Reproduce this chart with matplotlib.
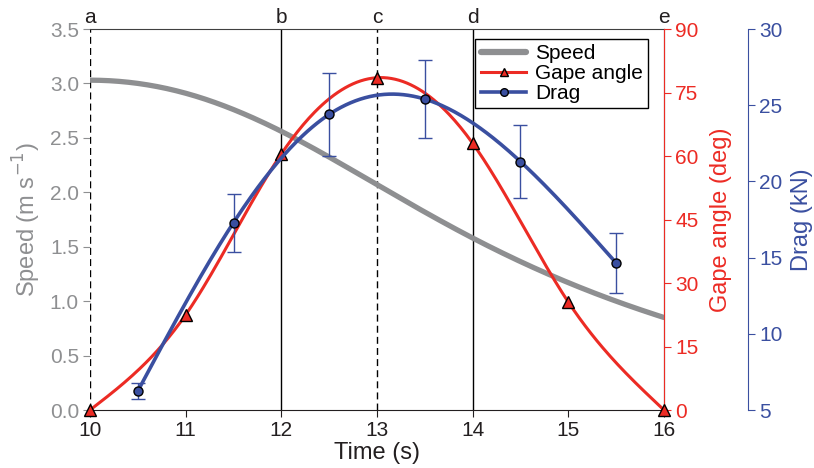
import numpy as np
import matplotlib
matplotlib.use("Agg")
import matplotlib.pyplot as plt
from matplotlib.lines import Line2D

plt.rcParams["font.family"] = ["Liberation Sans", "DejaVu Sans"]

GREY = "#8e8f91"
RED = "#ec2b24"
BLUE = "#3a4fa0"

# speed curve (m/s)
speed_t = [10, 11, 12, 13, 14, 15, 16]
speed_v = [3.03, 2.91, 2.56, 2.07, 1.58, 1.17, 0.85]

# gape angle (deg)
gape_t = [10, 11, 12, 13, 14, 15, 16]
gape_v = [0, 22.5, 60.5, 78.5, 63, 25.5, 0]

# drag (kN)
drag_t = [10.5, 11.5, 12.5, 13.5, 14.5, 15.5]
drag_v = [6.25, 17.3, 24.4, 25.4, 21.3, 14.65]
drag_err = [0.55, 1.9, 2.7, 2.55, 2.4, 1.95]

events = ["a", "b", "c", "d", "e"]
event_t = [10, 12, 13, 14, 16]
event_ls = ["--", "-", "--", "-", None]


def spline(x, y, xs, d0=None, dn=None):
    """Cubic spline; natural ends unless end slopes d0/dn are given."""
    x = np.asarray(x, float)
    y = np.asarray(y, float)
    n = len(x)
    h = np.diff(x)
    A = np.zeros((n, n))
    b = np.zeros(n)
    if d0 is None:
        A[0, 0] = 1
    else:
        A[0, 0], A[0, 1] = 2 * h[0], h[0]
        b[0] = 6 * ((y[1] - y[0]) / h[0] - d0)
    if dn is None:
        A[-1, -1] = 1
    else:
        A[-1, -2], A[-1, -1] = h[-1], 2 * h[-1]
        b[-1] = 6 * (dn - (y[-1] - y[-2]) / h[-1])
    for i in range(1, n - 1):
        A[i, i - 1] = h[i - 1]
        A[i, i] = 2 * (h[i - 1] + h[i])
        A[i, i + 1] = h[i]
        b[i] = 6 * ((y[i + 1] - y[i]) / h[i] - (y[i] - y[i - 1]) / h[i - 1])
    M = np.linalg.solve(A, b)
    idx = np.clip(np.searchsorted(x, xs) - 1, 0, n - 2)
    x0, x1 = x[idx], x[idx + 1]
    hh = x1 - x0
    a = (x1 - xs) / hh
    c = (xs - x0) / hh
    return (a * y[idx] + c * y[idx + 1]
            + ((a ** 3 - a) * M[idx] + (c ** 3 - c) * M[idx + 1]) * hh ** 2 / 6)


fig = plt.figure(figsize=(8.14, 4.68), dpi=100)
ax = fig.add_axes([0.1106, 0.1239, 0.7051, 0.8141])
ax2 = ax.twinx()
ax3 = ax.twinx()

# speed
ts = np.linspace(10, 16, 300)
ax.plot(ts, spline(speed_t, speed_v, ts, d0=0.0, dn=-0.28), color=GREY, lw=3.8,
        solid_capstyle="round", zorder=3)
ax.set_xlim(10, 16)
ax.set_ylim(0, 3.5)
ax.set_xticks(range(10, 17))
ax.set_yticks(np.arange(0, 3.51, 0.5))
ax.set_yticklabels([f"{v:.1f}" for v in np.arange(0, 3.51, 0.5)])
ax.set_xlabel("Time (s)", fontsize=17, color="#231f20", labelpad=1)
ax.set_ylabel("Speed (m s$^{-1}$)", fontsize=17, color=GREY, labelpad=5)
ax.tick_params(axis="y", colors=GREY, labelsize=15, length=5, direction="out", pad=3)
ax.tick_params(axis="x", colors="#231f20", labelsize=15, length=5, direction="out", pad=3)
ax.spines["left"].set_visible(False)
ax.spines["top"].set_color("#404040")
ax.spines["bottom"].set_color("#231f20")

for lab, t, ls in zip(events, event_t, event_ls):
    if ls == "--":
        ax.axvline(t, color="black", lw=1, ls="--", dashes=(5, 3), zorder=2)
    elif ls == "-":
        ax.axvline(t, color="black", lw=1, zorder=2)
    ax.text(t, 3.5 + 0.02, lab, ha="center", va="bottom", fontsize=15,
            color="#231f20")

# gape angle
tg = np.linspace(10, 16, 300)
ax2.plot(tg, spline(gape_t, gape_v, tg), color=RED, lw=2.2, zorder=3)
ax2.plot(gape_t, gape_v, ls="none", marker="^", ms=8, mfc=RED, mec="black",
         mew=1, clip_on=False, zorder=4)
ax2.set_ylim(0, 90)
ax2.set_yticks(range(0, 91, 15))
ax2.set_ylabel("Gape angle (deg)", fontsize=17, color=RED, labelpad=8)
ax2.tick_params(axis="y", colors=RED, labelsize=15, length=5, direction="out", pad=3)
ax2.spines["right"].set_color(RED)
for s in ["left", "top", "bottom"]:
    ax2.spines[s].set_visible(False)

# drag
td = np.linspace(drag_t[0], drag_t[-1], 300)
ax3.plot(td, spline(drag_t, drag_v, td), color=BLUE, lw=2.6, zorder=3)
ax3.errorbar(drag_t, drag_v, yerr=drag_err, fmt="o", color=BLUE, ms=6.5,
             mfc=BLUE, mec="black", mew=1, ecolor=BLUE, elinewidth=1,
             capsize=5, capthick=1, zorder=4)
ax3.set_ylim(5, 30)
ax3.set_yticks(range(5, 31, 5))
ax3.set_ylabel("Drag (kN)", fontsize=17, color=BLUE, labelpad=6)
ax3.tick_params(axis="y", colors=BLUE, labelsize=15, length=5, direction="out", pad=3)
ax3.spines["right"].set_position(("axes", 1.1463))
ax3.spines["right"].set_color(BLUE)
for s in ["left", "top", "bottom"]:
    ax3.spines[s].set_visible(False)

handles = [
    Line2D([], [], color=GREY, lw=4.5, solid_capstyle="round"),
    Line2D([], [], color=RED, lw=2.2, marker="^", ms=6, mfc=RED, mec="black"),
    Line2D([], [], color=BLUE, lw=2.6, marker="o", ms=5.5, mfc=BLUE, mec="black"),
]
leg = ax3.legend(handles, ["Speed", "Gape angle", "Drag"], loc="upper right",
                 bbox_to_anchor=(0.972, 0.974), fontsize=15, frameon=True,
                 fancybox=False, edgecolor="black", framealpha=1,
                 handlelength=2.2, borderpad=0.25, labelspacing=0.05,
                 handletextpad=0.4, borderaxespad=0)
leg.get_frame().set_linewidth(1)

fig.savefig("out.png", dpi=100)
